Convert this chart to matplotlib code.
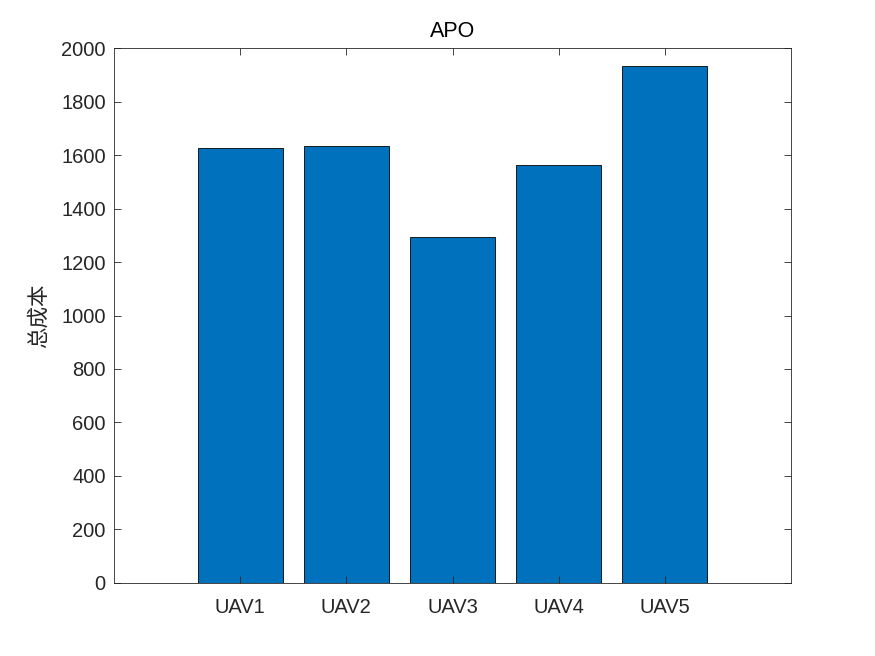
import matplotlib
matplotlib.use('Agg')
import matplotlib.pyplot as plt
import numpy as np

# Data
uav_names = ['UAV1', 'UAV2', 'UAV3', 'UAV4', 'UAV5']
total_cost = [1626, 1634, 1294, 1563, 1932]
y_ticks = [0, 200, 400, 600, 800, 1000, 1200, 1400, 1600, 1800, 2000]

plt.rcParams['font.family'] = ['Liberation Sans', 'DejaVu Sans']

fig = plt.figure(figsize=(8.75, 6.56), dpi=100)
ax = fig.add_axes([0.1303, 0.1113, 0.7737, 0.8155])

x = np.arange(1, len(uav_names) + 1)
ax.bar(x, total_cost, width=0.8, color='#0072BD', edgecolor='black', linewidth=0.6)

ax.set_xlim(-0.186, 6.186)
ax.set_ylim(0, 2000)
ax.set_xticks(x)
ax.set_xticklabels(uav_names)
ax.set_yticks(y_ticks)
ax.tick_params(direction='in', top=True, right=True, labelsize=14.5,
               length=5, width=0.6, colors='#262626')
ax.tick_params(axis='x', pad=11)
ax.tick_params(axis='y', pad=6)
for s in ax.spines.values():
    s.set_linewidth(0.6)
    s.set_color('#262626')

ax.set_title('APO', fontsize=15.5, color='black', pad=8)
ax.set_ylabel('总成本', fontsize=15.5, family=['Noto Sans CJK SC', 'DejaVu Sans'],
              color='#262626', labelpad=8)

fig.savefig('out.png', dpi=100)
